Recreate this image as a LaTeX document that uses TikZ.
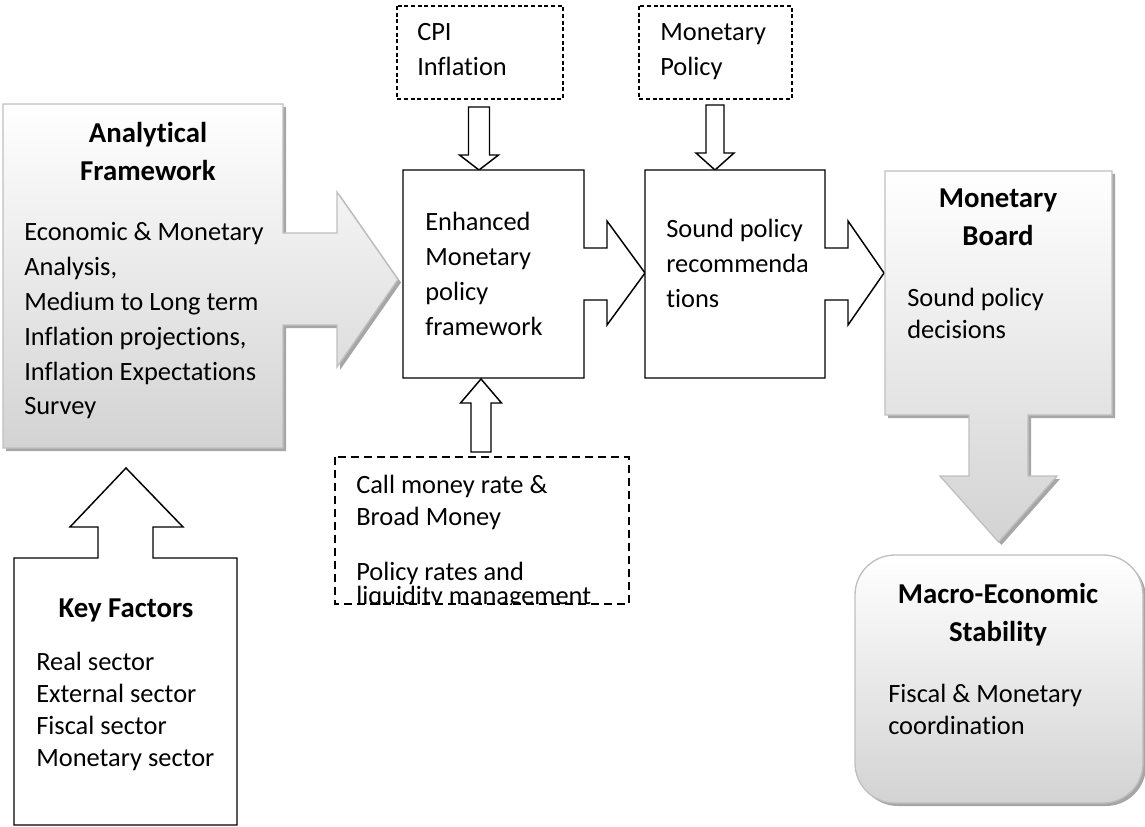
\documentclass[tikz,border=0pt]{standalone}
\usepackage{fontspec}
\setmainfont{Carlito}[Ligatures=NoCommon]

\definecolor{edgegray}{HTML}{BFBFBF}
\definecolor{shadowgray}{HTML}{A6A6A6}
\definecolor{fillbottom}{HTML}{D3D3D3}

% stacked lines; the node's baseline is the baseline of the first line
\newcommand\leftlines[2][26.1pt]{\vtop{\let\\\cr\baselineskip=#1\lineskiplimit=-\maxdimen
  \halign{##\hfil\cr#2\crcr}}}
\newcommand\midlines[2][28.5pt]{\vtop{\let\\\cr\baselineskip=#1\lineskiplimit=-\maxdimen
  \halign{\hfil##\hfil\cr#2\crcr}}}

% outlines of the compound shapes (box + block arrow)
\def\analyticalpath{(3,104) -- (283,104) -- (283,233) -- (337,233) -- (337,192) -- (398,279.5)
  -- (337,367) -- (337,325) -- (283,325) -- (283,448) -- (3,448) -- cycle}
\def\boardpath{(885,171) -- (1112,171) -- (1112,415) -- (1028,415) -- (1028,476) -- (1057,476)
  -- (998.5,542) -- (940,476) -- (969,476) -- (969,415) -- (885,415) -- cycle}
\def\macropath{(855,555) [rounded corners=30pt] -- (1143,555) -- (1143,803) -- (855,803) -- cycle}

\tikzset{
  flat/.style={draw=black, line width=1.1pt, fill=white, line join=miter},
  soft/.style={draw=edgegray, line width=1pt, top color=white, bottom color=fillbottom},
  dropshadow/.style={fill=shadowgray, draw=none, shift={(3,3)}},
  finedash/.style={draw=black, line width=0.8pt, dash pattern=on 3pt off 2pt},
  heavydash/.style={draw=black, line width=1.5pt, dash pattern=on 6pt off 3.75pt},
  body/.style={inner sep=0pt, anchor=base west},
  heading/.style={inner sep=0pt, anchor=base, font=\bfseries\fontsize{21.6pt}{28.5pt}\selectfont},
}

\begin{document}
\begin{tikzpicture}[x=0.75pt, y=-0.75pt, font=\fontsize{19.8pt}{26.1pt}\selectfont]
\useasboundingbox (0,0) rectangle (1145,827);

% ---- Analytical framework with its arrow
\fill[dropshadow] \analyticalpath;
\path[soft] \analyticalpath;
\node[heading] (af-title) at (148,143) {\midlines{Analytical\\Framework}};
\node[body] (af-body) at (24,241) {\leftlines{Economic \& Monetary\\Analysis,\\Medium to Long term\\Inflation projections,\\Inflation Expectations\\Survey}};

% ---- Key factors with the up arrow
\path[flat] (14,558) -- (98,558) -- (98,527) -- (70,527) -- (126,468) -- (183,527) -- (153,527)
  -- (153,558) -- (237,558) -- (237,825) -- (14,825) -- cycle;
\node[heading] (kf-title) at (126,617) {Key Factors};
\node[body] (kf-body) at (36,670) {\leftlines[24.15pt]{Real sector\\External sector\\Fiscal sector\\Monetary sector}};

% ---- inputs at the top
\path[finedash] (397,6) rectangle (563,99);
\node[body] (cpi) at (417,41) {\leftlines{CPI\\Inflation}};
\path[finedash] (639,6) rectangle (792,99);
\node[body] (mp) at (660,41) {\leftlines{Monetary\\Policy}};

\path[flat] (468.5,107) -- (489.5,107) -- (489.5,155) -- (498.5,155) -- (479,170) -- (459.5,155)
  -- (468.5,155) -- cycle;
\path[flat] (706,105) -- (724,105) -- (724,153) -- (734,153) -- (715,170) -- (696,153)
  -- (706,153) -- cycle;

% ---- framework box and recommendations box
\path[flat] (403,170) -- (584,170) -- (584,248) -- (607,248) -- (607,221) -- (645,273) -- (607,325)
  -- (607,300) -- (584,300) -- (584,378) -- (403,378) -- cycle;
\node[body] (enh) at (425,231) {\leftlines{Enhanced\\Monetary\\policy\\framework}};

\path[flat] (645,170) -- (825,170) -- (825,248) -- (848,248) -- (848,221) -- (884,273) -- (848,325)
  -- (848,300) -- (825,300) -- (825,378) -- (645,378) -- cycle;
\node[body] (rec) at (666,238) {\leftlines{Sound policy\\recommenda\\tions}};

% ---- operational input below
\path[flat] (471,452) -- (491,452) -- (491,403) -- (501.5,403) -- (481,379) -- (460.5,403)
  -- (471,403) -- cycle;
\begin{scope}
  \clip (335,457) rectangle (629,604);
  \node[body] (ops) at (356,493) {\leftlines[24.15pt]{Call money rate \&\\Broad Money}};
  \node[body] (pol) at (356,580) {Policy rates and};
  \node[body] (liq) at (356,604) {liquidity management};
\end{scope}
\path[heavydash] (335,457) rectangle (629,604);

% ---- monetary board with the down arrow
\fill[dropshadow] \boardpath;
\path[soft] \boardpath;
\node[heading] (mb-title) at (998,208) {\midlines{Monetary\\Board}};
\node[body] (mb-body) at (907,306) {\leftlines[24.15pt]{Sound policy\\decisions}};

% ---- macro-economic stability
\fill[dropshadow] \macropath;
\path[soft] \macropath;
\node[heading] (ms-title) at (998,603) {\midlines{Macro-Economic\\Stability}};
\node[body] (ms-body) at (888,702) {\leftlines[24.15pt]{Fiscal \& Monetary\\coordination}};
\end{tikzpicture}
\end{document}
